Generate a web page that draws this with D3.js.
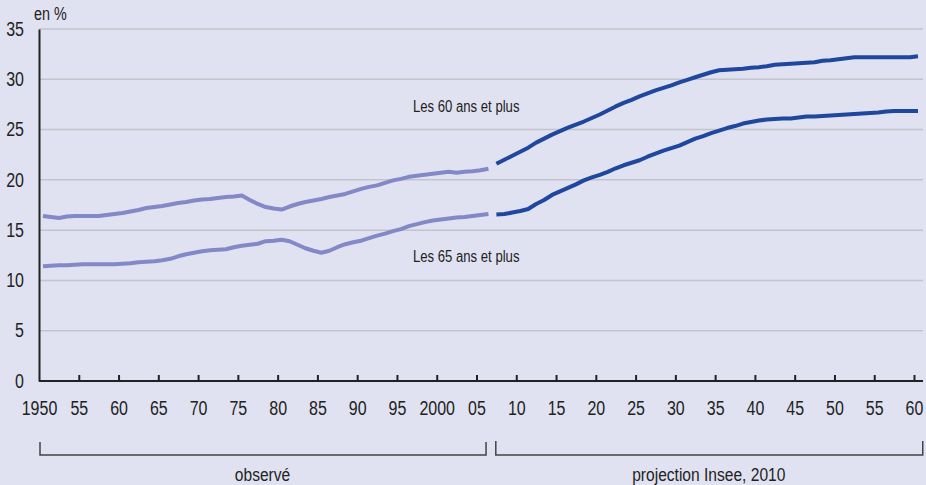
<!DOCTYPE html>
<html>
<head>
<meta charset="utf-8">
<script src="https://cdn.jsdelivr.net/npm/d3@7"></script>
<style>
  body { margin: 0; background: #e0e2f1; }
  svg { display: block; }
  text { font-family: "Liberation Sans", Arial, sans-serif; fill: #222; }
</style>
</head>
<body>
<svg></svg>
<script>
// years observed / projected
const obsYears = d3.range(1950, 2007);
const projYears = d3.range(2007, 2061);

const obs60 = [16.4, 16.3, 16.2, 16.35, 16.4, 16.4, 16.4, 16.4, 16.5, 16.6,
  16.7, 16.85, 17.0, 17.2, 17.3, 17.4, 17.55, 17.7, 17.8, 17.95,
  18.05, 18.1, 18.2, 18.3, 18.35, 18.45, 18.0, 17.6, 17.3, 17.15,
  17.05, 17.35, 17.6, 17.8, 17.95, 18.1, 18.3, 18.45, 18.6, 18.85,
  19.1, 19.3, 19.45, 19.7, 19.95, 20.1, 20.3, 20.4, 20.5, 20.6,
  20.7, 20.8, 20.7, 20.8, 20.85, 20.95, 21.1];

const obs65 = [11.4, 11.45, 11.5, 11.5, 11.55, 11.6, 11.6, 11.6, 11.6, 11.6,
  11.65, 11.7, 11.8, 11.85, 11.9, 12.0, 12.15, 12.4, 12.6, 12.75,
  12.9, 13.0, 13.05, 13.1, 13.3, 13.45, 13.55, 13.65, 13.9, 13.95,
  14.05, 13.9, 13.55, 13.2, 12.95, 12.75, 12.95, 13.3, 13.6, 13.8,
  13.95, 14.2, 14.45, 14.65, 14.9, 15.1, 15.4, 15.6, 15.8, 15.95,
  16.05, 16.15, 16.25, 16.3, 16.4, 16.5, 16.6];

const proj60 = [21.6, 22.0, 22.4, 22.8, 23.2, 23.7, 24.1, 24.5, 24.85, 25.2,
  25.5, 25.8, 26.15, 26.5, 26.9, 27.3, 27.65, 27.95, 28.3, 28.6,
  28.9, 29.15, 29.4, 29.7, 29.95, 30.2, 30.45, 30.7, 30.9, 30.95,
  31.0, 31.05, 31.15, 31.2, 31.3, 31.45, 31.5, 31.55, 31.6, 31.65,
  31.7, 31.85, 31.9, 32.0, 32.1, 32.2, 32.2, 32.2, 32.2, 32.2,
  32.2, 32.2, 32.2, 32.3];

const proj65 = [16.55, 16.6, 16.75, 16.9, 17.1, 17.6, 18.0, 18.5, 18.85, 19.2,
  19.55, 19.95, 20.25, 20.5, 20.8, 21.15, 21.45, 21.7, 21.95, 22.3,
  22.6, 22.9, 23.15, 23.4, 23.75, 24.1, 24.35, 24.65, 24.9, 25.15,
  25.35, 25.6, 25.75, 25.9, 26.0, 26.05, 26.1, 26.1, 26.2, 26.3,
  26.3, 26.35, 26.4, 26.45, 26.5, 26.55, 26.6, 26.65, 26.7, 26.8,
  26.85, 26.85, 26.85, 26.85];

const xTicks = d3.range(1950, 2061, 5);
const yTicks = [0, 5, 10, 15, 20, 25, 30, 35];

let width = 926;
let height = 485;
let narrow = 0.82; // squeeze Liberation Sans to look like Arial Narrow
let svg = d3.select("svg")
            .attr("width", width)
            .attr("height", height);

let x = d3.scaleLinear().domain([1950, 2060]).range([39, 914]);
let y = d3.scaleLinear().domain([0, 35]).range([381, 29]);
let right = 923;

function label(g, tx, ty, size, txt, anchor) {
    return g.append("text")
        .attr("transform", `translate(${tx},${ty}) scale(${narrow},1)`)
        .attr("text-anchor", anchor || "start")
        .style("font-size", size + "px")
        .text(txt);
}

// gridlines
svg.append("g")
    .selectAll("line")
    .data(yTicks.filter(d => d > 0))
    .enter()
    .append("line")
    .attr("x1", x(1950))
    .attr("x2", right)
    .attr("y1", d => y(d))
    .attr("y2", d => y(d))
    .attr("stroke", "#c2c3cb")
    .attr("stroke-width", 1.5);

// y axis
let yAxis = svg.append("g")
    .attr("transform", `translate(${x(1950)},0)`)
    .call(d3.axisLeft(y).tickValues(yTicks).tickSize(0).tickPadding(15));
yAxis.select(".domain").attr("stroke", "#222").attr("stroke-width", 2);
yAxis.selectAll("text")
    .style("font-size", "19.5px")
    .attr("fill", "#222")
    .attr("x", -15 / narrow)
    .attr("transform", `scale(${narrow},1)`);

// x axis, ticks pointing up
let xAxis = svg.append("g")
    .attr("transform", `translate(0,${y(0)})`)
    .call(d3.axisBottom(x)
        .tickValues(xTicks)
        .tickSize(-6)
        .tickPadding(20)
        .tickFormat(d => (d === 1950 || d === 2000) ? String(d) : String(d % 100).padStart(2, "0")));
xAxis.select(".domain").attr("d", `M${x(1950)},0H${right}`).attr("stroke", "#222").attr("stroke-width", 2);
xAxis.selectAll(".tick line").attr("stroke", "#222").attr("stroke-width", 2);
xAxis.selectAll(".tick").filter(d => d === 1950).select("line").remove();
xAxis.selectAll("text")
    .style("font-size", "19.5px")
    .attr("fill", "#222")
    .attr("transform", `scale(${narrow},1)`);

label(svg, 34, 20, 17.5, "en %");

// lines (x at mid-year)
let line = (years) => d3.line()
    .x((d, i) => x(years[i] + 0.5))
    .y(d => y(d));

const series = [
    { years: obsYears, values: obs60, color: "#8388c6" },
    { years: obsYears, values: obs65, color: "#8388c6" },
    { years: projYears, values: proj60, color: "#1f479d" },
    { years: projYears, values: proj65, color: "#1f479d" }
];

svg.append("g")
    .selectAll("path")
    .data(series)
    .enter()
    .append("path")
    .attr("d", d => line(d.years)(d.values))
    .attr("fill", "none")
    .attr("stroke", d => d.color)
    .attr("stroke-width", 4)
    .attr("stroke-linejoin", "round");

label(svg, 413, 112, 16, "Les 60 ans et plus");
label(svg, 413, 262, 16, "Les 65 ans et plus");

// brackets
const brackets = [
    { from: 1950, to: 2006.2, label: "observé", top: 442 },
    { from: 2007.3, to: 2061.1, label: "projection Insee, 2010", top: 441 }
];
let br = svg.append("g");
br.selectAll("path")
    .data(brackets)
    .enter()
    .append("path")
    .attr("d", d => `M${x(d.from) + 1},${d.top}V455H${x(d.to)}V${d.top}`)
    .attr("fill", "none")
    .attr("stroke", "#444")
    .attr("stroke-width", 1.5);
brackets.forEach(d => label(br, (x(d.from) + x(d.to)) / 2, 481, 19, d.label, "middle"));
</script>
</body>
</html>
